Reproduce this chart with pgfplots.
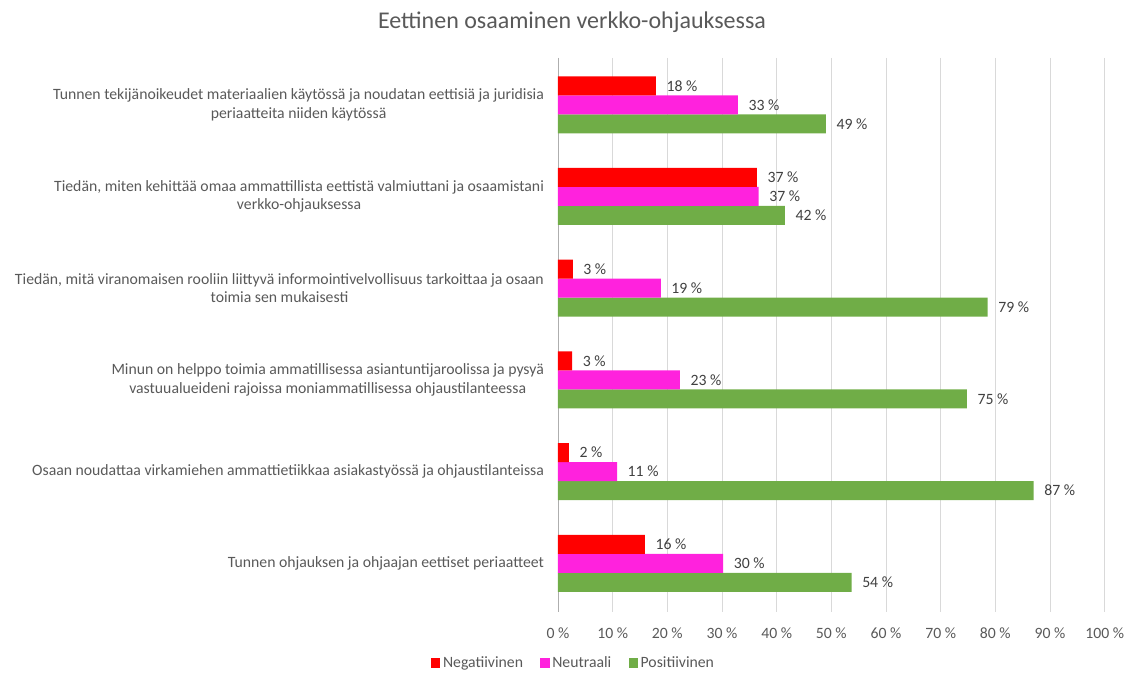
\documentclass[border=0pt]{standalone}
\usepackage{pgfplots}
\pgfplotsset{compat=1.18}
\usepackage{fontspec}
\setmainfont{Carlito}

\definecolor{negc}{HTML}{FF0000}
\definecolor{neuc}{HTML}{FF22DD}
\definecolor{posc}{HTML}{70AD47}
\definecolor{txtgray}{HTML}{595959}
\definecolor{lblgray}{HTML}{404040}
\definecolor{gridgray}{HTML}{D9D9D9}

\begin{document}
\begin{tikzpicture}[x=1pt,y=1pt]
  % fixed canvas (1 px = 0.75 pt), plot area lower-left at origin
  \path[use as bounding box] (-418.5,-45.75) rectangle (425.25,459);
  \begin{axis}[
    at={(0,0)}, anchor=south west,
    scale only axis, width=410pt, height=415.5pt,
    xbar=0pt, bar width=14.25pt,
    xmin=0, xmax=100, ymin=0.49, ymax=6.53,
    y dir=reverse,
    axis y line*=left, axis x line*=bottom,
    x axis line style={draw=none},
    y axis line style={draw=gridgray!80!black},
    xtick={0,10,...,100},
    xticklabel={\pgfmathprintnumber{\tick}~\%},
    /pgf/number format/assume math mode=true,
    xticklabel style={font=\fontsize{11.8}{13}\selectfont, text=txtgray, yshift=-8.5pt},
    major tick length=0pt,
    xmajorgrids, grid style={gridgray, line width=0.6pt},
    ytick={1,...,6},
    yticklabels={
      {Tunnen tekijänoikeudet materiaalien käytössä ja noudatan eettisiä ja juridisia\\periaatteita niiden käytössä},
      {Tiedän, miten kehittää omaa ammattillista eettistä valmiuttani ja osaamistani\\verkko-ohjauksessa},
      {Tiedän, mitä viranomaisen rooliin liittyvä informointivelvollisuus tarkoittaa ja osaan\\toimia sen mukaisesti},
      {Minun on helppo toimia ammatillisessa asiantuntijaroolissa ja pysyä\\vastuualueideni rajoissa moniammatillisessa ohjaustilanteessa},
      {Osaan noudattaa virkamiehen ammattietiikkaa asiakastyössä ja ohjaustilanteissa},
      {Tunnen ohjauksen ja ohjaajan eettiset periaatteet}},
    yticklabel style={align=center, font=\fontsize{11.8}{14}\selectfont, text=txtgray, xshift=-7pt},
    point meta=explicit symbolic,
    nodes near coords={\pgfplotspointmeta~\%},
    nodes near coords style={anchor=west, font=\fontsize{11.8}{13}\selectfont, text=lblgray, xshift=4.5pt},
    legend columns=3, reverse legend,
    legend style={draw=none, at={(0.029,-0.092)}, anchor=center,
      font=\fontsize{11.8}{13}\selectfont, text=txtgray,
      /tikz/every even column/.append style={column sep=11pt}},
    legend image code/.code={\fill[#1] (0pt,-3.5pt) rectangle (7pt,3.5pt);},
  ]
    % Positiivinen (drawn first -> lowest bar in each group)
    \addplot[draw=none, fill=posc] coordinates {
      (49.0,1) [49] (41.5,2) [42] (78.6,3) [79] (74.8,4) [75] (87.0,5) [87] (53.7,6) [54]
    };
    \addlegendentry{Positiivinen}
    % Neutraali
    \addplot[draw=none, fill=neuc] coordinates {
      (32.9,1) [33] (36.7,2) [37] (18.8,3) [19] (22.3,4) [23] (10.8,5) [11] (30.2,6) [30]
    };
    \addlegendentry{Neutraali}
    % Negatiivinen
    \addplot[draw=none, fill=negc] coordinates {
      (17.9,1) [18] (36.4,2) [37] (2.7,3) [3] (2.6,4) [3] (2.0,5) [2] (15.9,6) [16]
    };
    \addlegendentry{Negatiivinen}
  \end{axis}
  \node[text=txtgray, font=\fontsize{18}{20}\selectfont] at (10.5,442.5) {Eettinen osaaminen verkko-ohjauksessa};
\end{tikzpicture}
\end{document}
